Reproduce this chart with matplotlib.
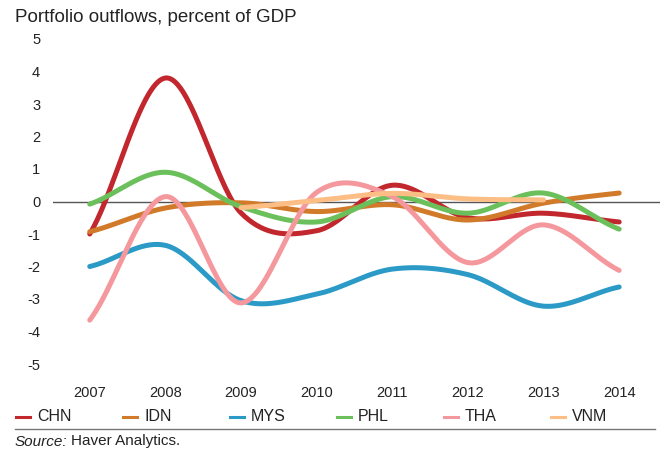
import matplotlib
matplotlib.use("Agg")
import matplotlib.pyplot as plt
from matplotlib.lines import Line2D
import numpy as np

# data, percent of GDP
years = [2007, 2008, 2009, 2010, 2011, 2012, 2013, 2014]
chn = [-1.0, 3.8, -0.35, -0.9, 0.5, -0.5, -0.36, -0.63]
idn = [-0.93, -0.2, -0.04, -0.31, -0.1, -0.57, -0.05, 0.26]
mys = [-2.0, -1.35, -3.05, -2.85, -2.08, -2.25, -3.22, -2.63]
phl = [-0.08, 0.9, -0.16, -0.63, 0.15, -0.36, 0.26, -0.85]
tha = [-3.65, 0.15, -3.12, 0.28, 0.15, -1.88, -0.72, -2.12]
vnm = [None, None, -0.19, 0.03, 0.25, 0.08, 0.05, None]

names = ["CHN", "IDN", "MYS", "PHL", "THA", "VNM"]
series = [chn, idn, mys, phl, tha, vnm]
colors = ["#C1272D", "#D17A2A", "#2B9AC6", "#6CC05B", "#F5989D", "#FCBE85"]

plt.rcParams["font.family"] = ["Liberation Sans", "DejaVu Sans"]
plt.rcParams["axes.unicode_minus"] = False


def smooth(xs, ys, n=40):
    # catmull-rom style curve through the points
    xs = np.asarray(xs, float)
    ys = np.asarray(ys, float)
    k = len(xs)
    m = np.zeros(k)
    for i in range(k):
        if i == 0:
            m[i] = (ys[1] - ys[0]) * 0.8
        elif i == k - 1:
            m[i] = (ys[-1] - ys[-2]) * 0.8
        else:
            m[i] = (ys[i + 1] - ys[i - 1]) / 2
    outx, outy = [], []
    for i in range(k - 1):
        t = np.linspace(0, 1, n)
        h00 = 2 * t**3 - 3 * t**2 + 1
        h10 = t**3 - 2 * t**2 + t
        h01 = -2 * t**3 + 3 * t**2
        h11 = t**3 - t**2
        dx = xs[i + 1] - xs[i]
        outx.extend(xs[i] + t * dx)
        outy.extend(h00 * ys[i] + h10 * dx * m[i] + h01 * ys[i + 1] + h11 * dx * m[i + 1])
    return np.array(outx), np.array(outy)


W, H = 660, 451
fig = plt.figure(figsize=(6.6, 4.51), dpi=100)
ax = fig.add_axes([0.0798, 1 - 380.25 / H, 1 - 0.0798, (380.25 - 22.75) / H])

ax.axhline(0, color="#555555", lw=1.0, zorder=1)

for name, vals, c in zip(names, series, colors):
    pts = [(x, v) for x, v in zip(years, vals) if v is not None]
    px, py = zip(*pts)
    sx, sy = smooth(px, py)
    ax.plot(sx, sy, color=c, lw=3.6, solid_capstyle="round", zorder=2)

ax.set_xlim(2006.51, 2014.54)
ax.set_ylim(-5.5, 5.5)
ax.set_yticks(range(-5, 6))
ax.set_xticks(years)
for s in ax.spines.values():
    s.set_visible(False)
ax.tick_params(length=0, labelsize=10.5, colors="#222222")
ax.tick_params(axis="y", pad=9)
ax.tick_params(axis="x", pad=4)

fig.text(15 / W, 1 - 18 / H, "Portfolio outflows, percent of GDP",
         fontsize=13.5, color="#222222", va="center", ha="left")

# legend row
for i, (name, c) in enumerate(zip(names, colors)):
    x0 = 16 + i * 107
    fig.add_artist(Line2D([x0 / W, (x0 + 14) / W], [1 - 416.5 / H] * 2,
                          color=c, lw=2.2, transform=fig.transFigure))
    fig.text((x0 + 21) / W, 1 - 416.5 / H, name, fontsize=11.5, color="#222222",
             va="center", ha="left")

fig.add_artist(Line2D([15 / W, 655 / W], [1 - 429 / H] * 2, color="#777777",
                      lw=1.0, transform=fig.transFigure))

src = fig.text(15 / W, 1 - 441.5 / H, "Source:", fontsize=11, style="italic",
               color="#222222", va="center", ha="left")
fig.canvas.draw()
bb = src.get_window_extent()
fig.text((bb.x1 + 3) / W, 1 - 441.5 / H, "Haver Analytics.", fontsize=11,
         color="#222222", va="center", ha="left")

fig.savefig("out.png", dpi=100)
